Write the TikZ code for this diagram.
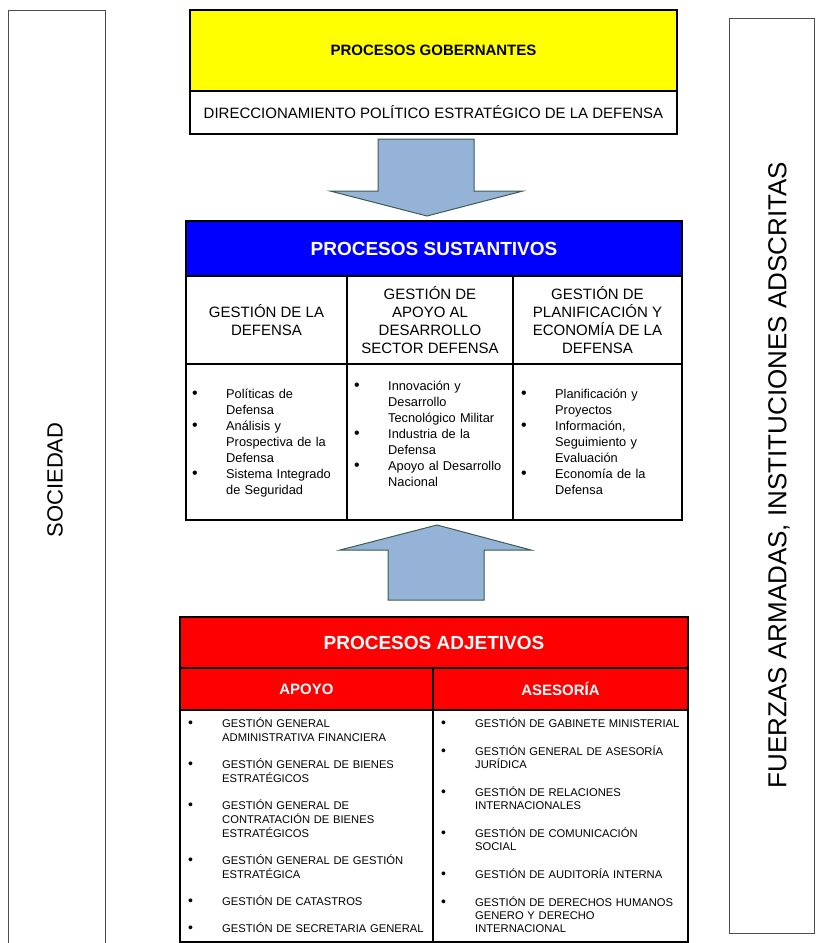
\documentclass[tikz,border=0pt]{standalone}
\usepackage{fontspec}
\setmainfont{Liberation Sans}
\usetikzlibrary{positioning}
\definecolor{procyellow}{HTML}{FFFF00}
\definecolor{procblue}{HTML}{0000FF}
\definecolor{procred}{HTML}{FF0000}
\definecolor{arrowfill}{HTML}{95B3D7}
\definecolor{arrowline}{HTML}{3E5C50}
\newlength{\bulind}\setlength{\bulind}{34pt}
% one bullet item with hanging indent
\newcommand{\itm}[1]{\hangindent=\bulind\hangafter=1\noindent\makebox[\bulind][l]{\scalebox{1.25}{\textbullet}}#1\par}
\tikzset{x=1pt, y=-1pt, % pixel grid of the page
cell/.style={draw=black, line width=1.3pt, inner sep=0pt, outer sep=0pt, align=center}, % plain box
sidebox/.style={cell, draw=black!70, line width=0.8pt}, % tall side frame
title/.style={cell, text=white, font=\bfseries\fontsize{19}{22}\selectfont}, % coloured heading
subtitle/.style={cell, font=\fontsize{15}{18}\selectfont}, % column heading
itemlist/.style={anchor=base west, inner sep=0pt, text width=200}, % bullet list
bigarrow/.style={draw=arrowline, fill=arrowfill, line width=1pt}, % block arrow
}

\begin{document}
\begin{tikzpicture}
  \useasboundingbox (0,0) rectangle (815,943);

  % side boxes
  \node[sidebox, anchor=north west, minimum width=97, minimum height=937] (socbox) at (8,10) {};
  \node[rotate=90, inner sep=0pt, font=\fontsize{22}{26}\selectfont] (soc) at (55,480) {SOCIEDAD};
  \node[sidebox, anchor=north west, minimum width=85, minimum height=915] (fabox) at (729,18) {};
  \node[rotate=90, inner sep=0pt, font=\fontsize{26}{30}\selectfont] (fa) at (779,475) {FUERZAS ARMADAS, INSTITUCIONES ADSCRITAS};

  % gobernantes
  \node[cell, fill=procyellow, anchor=north west, minimum width=487, minimum height=81,
        font=\bfseries\fontsize{15}{18}\selectfont] (gob) at (190,10) {PROCESOS GOBERNANTES};
  \node[subtitle, below=0pt of gob, minimum width=487, minimum height=43] (dir) {DIRECCIONAMIENTO POLÍTICO ESTRATÉGICO DE LA DEFENSA};

  \draw[bigarrow] (378,139) -- (474,139) -- (474,191) -- (523,191) -- (427,216) -- (330,191) -- (378,191) -- cycle;

  % sustantivos
  \node[title, fill=procblue, anchor=north west, minimum width=496, minimum height=55] (sust) at (186,221) {PROCESOS SUSTANTIVOS};
  \node[subtitle, anchor=north west, minimum width=161, minimum height=88] (g1) at (sust.south west) {GESTIÓN DE LA\\DEFENSA};
  \node[subtitle, right=0pt of g1, minimum width=166, minimum height=88] (g2) {GESTIÓN DE\\APOYO AL\\DESARROLLO\\SECTOR DEFENSA};
  \node[subtitle, right=0pt of g2, minimum width=169, minimum height=88] (g3) {GESTIÓN DE\\PLANIFICACIÓN Y\\ECONOMÍA DE LA\\DEFENSA};
  \node[cell, below=0pt of g1, minimum width=161, minimum height=156] (b1) {};
  \node[cell, below=0pt of g2, minimum width=166, minimum height=156] (b2) {};
  \node[cell, below=0pt of g3, minimum width=169, minimum height=156] (b3) {};

  \node[itemlist, font=\fontsize{12.8}{16}\selectfont] (l1) at (192,398) {%
    \itm{Políticas de\newline Defensa}%
    \itm{Análisis y\newline Prospectiva de la\newline Defensa}%
    \itm{Sistema Integrado\newline de Seguridad}};
  \node[itemlist, font=\fontsize{12.8}{16}\selectfont] (l2) at (354,390) {%
    \itm{Innovación y\newline Desarrollo\newline Tecnológico Militar}%
    \itm{Industria de la\newline Defensa}%
    \itm{Apoyo al Desarrollo\newline Nacional}};
  \node[itemlist, font=\fontsize{12.8}{16}\selectfont] (l3) at (521,398) {%
    \itm{Planificación y\newline Proyectos}%
    \itm{Información,\newline Seguimiento y\newline Evaluación}%
    \itm{Economía de la\newline Defensa}};

  \draw[bigarrow] (388,600) -- (388,550) -- (340,550) -- (437,525) -- (531,550) -- (484,550) -- (484,600) -- cycle;

  % adjetivos
  \node[title, fill=procred, anchor=north west, minimum width=508, minimum height=51] (adj) at (180,617) {PROCESOS ADJETIVOS};
  \node[title, fill=procred, anchor=north west, minimum width=253, minimum height=42,
        font=\bfseries\fontsize{15}{18}\selectfont] (apo) at (adj.south west) {APOYO};
  \node[title, fill=procred, right=0pt of apo, minimum width=255, minimum height=42,
        font=\bfseries\fontsize{15}{18}\selectfont] (ase) {ASESORÍA};
  \node[cell, below=0pt of apo, minimum width=253, minimum height=232] (bapo) {};
  \node[cell, below=0pt of ase, minimum width=255, minimum height=232] (base) {};

  \node[itemlist, text width=260, font=\fontsize{11.2}{14}\selectfont] (lapo) at (188,727) {%
    \setlength{\parskip}{13pt}%
    \itm{GESTIÓN GENERAL\newline ADMINISTRATIVA FINANCIERA}%
    \itm{GESTIÓN GENERAL DE BIENES\newline ESTRATÉGICOS}%
    \itm{GESTIÓN GENERAL DE\newline CONTRATACIÓN DE BIENES\newline ESTRATÉGICOS}%
    \itm{GESTIÓN GENERAL DE GESTIÓN\newline ESTRATÉGICA}%
    \itm{GESTIÓN DE CATASTROS}%
    \itm{GESTIÓN DE SECRETARIA GENERAL}};
  \node[itemlist, text width=260, font=\fontsize{11.2}{13}\selectfont] (lase) at (441,727) {%
    \setlength{\parskip}{15pt}%
    \itm{GESTIÓN DE GABINETE MINISTERIAL}%
    \itm{GESTIÓN GENERAL DE ASESORÍA\newline JURÍDICA}%
    \itm{GESTIÓN DE RELACIONES\newline INTERNACIONALES}%
    \itm{GESTIÓN DE COMUNICACIÓN\newline SOCIAL}%
    \itm{GESTIÓN DE AUDITORÍA INTERNA}%
    \itm{GESTIÓN DE DERECHOS HUMANOS\newline GENERO Y DERECHO\newline INTERNACIONAL}};
\end{tikzpicture}
\end{document}
